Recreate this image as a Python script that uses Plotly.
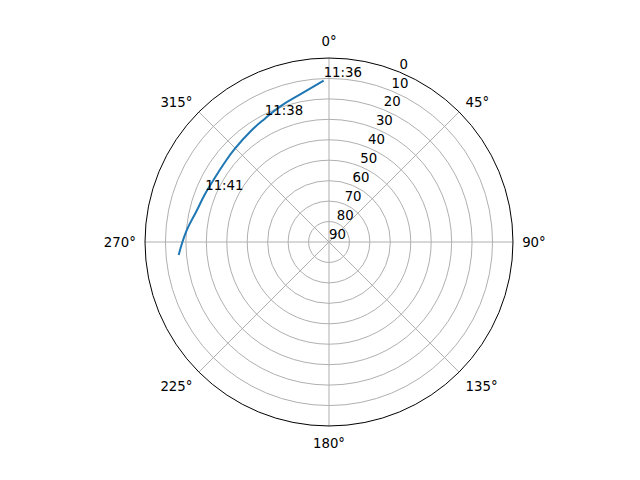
import plotly.graph_objects as go

# satellite track: azimuth (deg) and elevation (deg)
azimuth = [358.1, 349.3, 340.6, 332.5, 325.0, 314.5, 306.8, 298.2, 291.3, 283.3, 274.6, 265.1]
elevation = [11.0, 16.3, 19.4, 22.0, 23.6, 25.2, 25.9, 25.9, 25.0, 23.5, 20.1, 16.2]

# time labels placed on the track
label_times = ["11:36", "11:38", "11:41"]
label_az = [358.1, 332.5, 291.3]
label_el = [11.0, 22.0, 25.0]

az_ticks = [0, 45, 90, 135, 180, 225, 270, 315]
el_ticks = [0, 10, 20, 30, 40, 50, 60, 70, 80, 90]
el_label_az = 22.5  # radial labels sit along this bearing

font = dict(family="DejaVu Sans", size=13.3, color="black")

fig = go.Figure()
fig.add_trace(go.Scatterpolar(r=elevation, theta=azimuth, mode="lines",
                              line=dict(color="#1f77b4", width=2, shape="spline", smoothing=1.3),
                              showlegend=False, hoverinfo="skip"))
fig.add_trace(go.Scatterpolar(r=label_el, theta=label_az, mode="text", text=label_times,
                              textposition="top right", textfont=font, showlegend=False,
                              hoverinfo="skip"))
# radial tick labels, drawn like matplotlib's (horizontal, just off the 22.5° line)
fig.add_trace(go.Scatterpolar(r=el_ticks, theta=[el_label_az] * len(el_ticks), mode="text",
                              text=[str(v) for v in el_ticks], textposition="top right",
                              textfont=font, showlegend=False, cliponaxis=False,
                              hoverinfo="skip"))

fig.update_layout(
    width=640, height=480,
    margin=dict(l=0, r=0, t=0, b=0),
    paper_bgcolor="white",
    font=font,
    polar=dict(
        domain=dict(x=[0.2125, 0.7906], y=[0.1292, 0.8958]),
        bgcolor="white",
        angularaxis=dict(rotation=90, direction="clockwise", tickmode="array",
                         tickvals=az_ticks, ticktext=[f"{a}°" for a in az_ticks],
                         showline=True, linecolor="black", linewidth=1,
                         gridcolor="#b0b0b0", gridwidth=1, ticks="outside", ticklen=6,
                         tickcolor="rgba(0,0,0,0)", tickfont=font),
        radialaxis=dict(range=[90, 0], tickmode="array", tickvals=el_ticks,
                        showline=False, showticklabels=False, gridcolor="#b0b0b0",
                        gridwidth=1, ticks="", angle=67.5),
    ),
)

fig.write_html("out.html")
